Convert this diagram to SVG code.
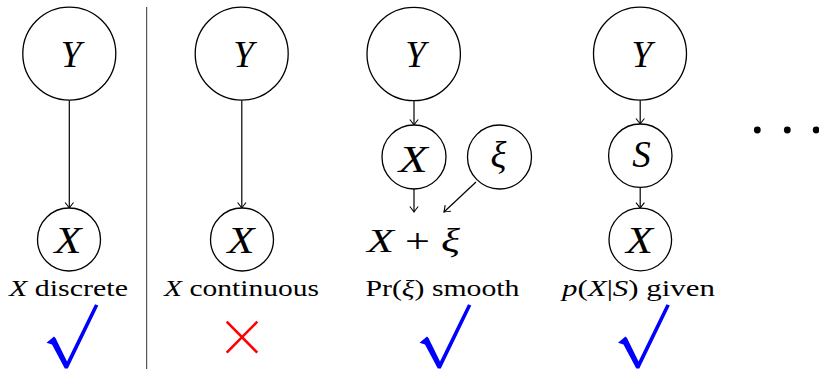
<svg xmlns="http://www.w3.org/2000/svg" width="819" height="369" viewBox="0 0 819 369">
<style>
.node{fill:#fff;stroke:#000;stroke-width:1.3}
.var{font-family:"Liberation Serif","Times New Roman",serif;font-style:italic;font-size:37px;text-anchor:middle;fill:#000}
.lbl{font-family:"Liberation Serif","Times New Roman",serif;font-size:23px;fill:#000}
.big{font-family:"Liberation Serif","Times New Roman",serif;font-size:33px;fill:#000}
.it{font-style:italic}
.edge{stroke:#000;stroke-width:1.2;fill:none}
.check{fill:#0000ff}
</style>
<defs>
<marker id="arr" markerUnits="userSpaceOnUse" markerWidth="12" markerHeight="12" refX="0" refY="0" orient="auto" overflow="visible" viewBox="-6 -6 12 12">
<path d="M-5.5,-4.2 Q-1.5,-1 0,0 Q-1.5,1 -5.5,4.2" fill="none" stroke="#000" stroke-width="1.1"/>
</marker>
<polygon id="chk" points="46.5,342.8 54,336.5 55.5,338 67,361.5 95,304.3 98.3,305.6 67.8,368.6 64.8,368.6 52,344.5"/>
</defs>
<line x1="146.7" y1="7" x2="146.7" y2="369" stroke="#333" stroke-width="1"/>
<g id="connectors">
<line class="edge" x1="69.3" y1="100.2" x2="69.3" y2="208" marker-end="url(#arr)"/>
<line class="edge" x1="241.8" y1="100.2" x2="241.8" y2="208" marker-end="url(#arr)"/>
<line class="edge" x1="414" y1="100.7" x2="414" y2="125" marker-end="url(#arr)"/>
<line class="edge" x1="414" y1="189" x2="414" y2="212" marker-end="url(#arr)"/>
<line class="edge" x1="476" y1="182" x2="444" y2="212" marker-end="url(#arr)"/>
<line class="edge" x1="640.2" y1="100.2" x2="640.2" y2="124" marker-end="url(#arr)"/>
<line class="edge" x1="640.2" y1="187.4" x2="640.2" y2="208.2" marker-end="url(#arr)"/>
</g>
<g id="c1-Y"><circle class="node" cx="69.3" cy="53.7" r="46.5"/><text class="var" x="71" y="66.7">Y</text></g>
<g id="c1-X"><circle class="node" cx="69" cy="239.5" r="31.5"/><text class="var" x="68" y="253.3" textLength="27" lengthAdjust="spacingAndGlyphs">X</text></g>
<g id="c2-Y"><circle class="node" cx="241.7" cy="53.7" r="46.5"/><text class="var" x="243.5" y="66.7">Y</text></g>
<g id="c2-X"><circle class="node" cx="242" cy="239.5" r="31.5"/><text class="var" x="241" y="253.3" textLength="27" lengthAdjust="spacingAndGlyphs">X</text></g>
<g id="c3-Y"><circle class="node" cx="413.7" cy="54" r="46.7"/><text class="var" x="415.5" y="67">Y</text></g>
<g id="c3-X"><circle class="node" cx="414" cy="157" r="32"/><text class="var" x="413.3" y="171.5" textLength="29" lengthAdjust="spacingAndGlyphs">X</text></g>
<g id="c3-xi"><circle class="node" cx="499.5" cy="157" r="32"/><text class="var" x="498.5" y="168">ξ</text></g>
<g id="c4-Y"><circle class="node" cx="640" cy="53.7" r="46.5"/><text class="var" x="641.8" y="66.7">Y</text></g>
<g id="c4-S"><circle class="node" cx="640.3" cy="155.7" r="31.7"/><text class="var" x="641.5" y="166.7">S</text></g>
<g id="c4-X"><circle class="node" cx="640.3" cy="239.5" r="31.3"/><text class="var" x="639.5" y="253.3" textLength="27" lengthAdjust="spacingAndGlyphs">X</text></g>
<g id="labels">
<text class="lbl" x="9" y="295.5" textLength="119" lengthAdjust="spacingAndGlyphs"><tspan class="it">X</tspan> discrete</text>
<text class="lbl" x="164" y="295.5" textLength="155" lengthAdjust="spacingAndGlyphs"><tspan class="it">X</tspan> continuous</text>
<text class="lbl" x="365.5" y="295.5" textLength="154" lengthAdjust="spacingAndGlyphs">Pr(<tspan class="it">ξ</tspan>) smooth</text>
<text class="lbl" x="562" y="295.5" textLength="153" lengthAdjust="spacingAndGlyphs"><tspan class="it">p</tspan>(<tspan class="it">X</tspan>|<tspan class="it">S</tspan>) given</text>
<text class="big" x="367" y="252" textLength="93" lengthAdjust="spacingAndGlyphs"><tspan class="it">X</tspan> + <tspan class="it">ξ</tspan></text>
</g>
<g id="marks">
<use href="#chk" class="check"/>
<use href="#chk" class="check" transform="translate(373,0)"/>
<use href="#chk" class="check" transform="translate(571.5,0)"/>
<path d="M226.7,321.7 L257.3,352.7 M257.3,321.7 L226.7,352.7" stroke="#ff0000" stroke-width="2.6" fill="none"/>
</g>
<g id="dots" fill="#000">
<circle cx="757.3" cy="130" r="3.4"/>
<circle cx="787.3" cy="130" r="3.4"/>
<circle cx="816.2" cy="130" r="3.4"/>
</g>
</svg>
